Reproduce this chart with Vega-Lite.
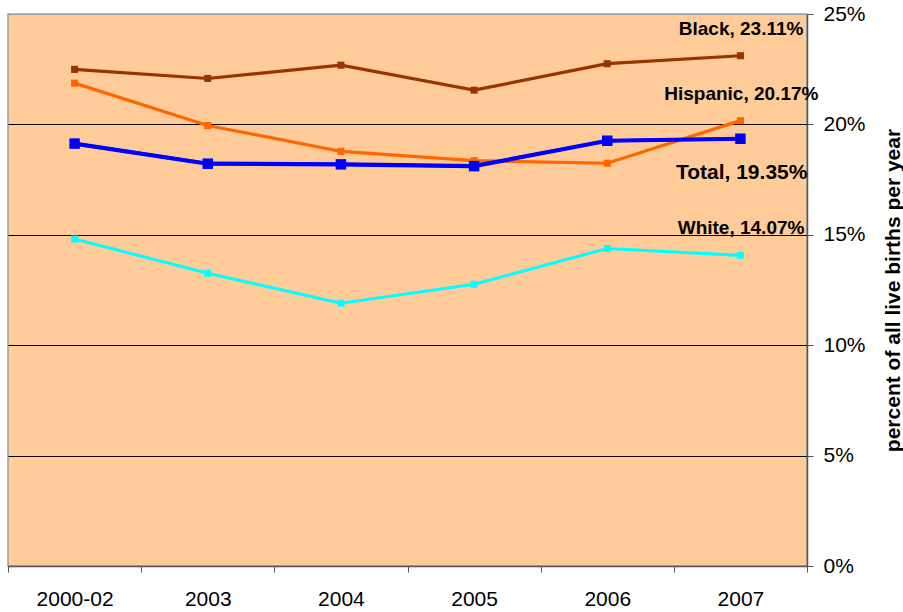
{
  "$schema": "https://vega.github.io/schema/vega-lite/v6.json",
  "autosize": {"type": "none"},
  "width": 799,
  "height": 552,
  "padding": {"left": 8, "top": 14, "right": 96, "bottom": 46},
  "background": "white",
  "config": {
    "font": "Liberation Sans",
    "view": {"fill": "#FFCC99", "stroke": "#A0A0A0", "strokeWidth": 1.5}
  },
  "data": {
    "values": [
      {"year": "2000-02", "series": "Black", "value": 22.49},
      {"year": "2003", "series": "Black", "value": 22.08},
      {"year": "2004", "series": "Black", "value": 22.68},
      {"year": "2005", "series": "Black", "value": 21.55},
      {"year": "2006", "series": "Black", "value": 22.75},
      {"year": "2007", "series": "Black", "value": 23.11},
      {"year": "2000-02", "series": "Hispanic", "value": 21.87},
      {"year": "2003", "series": "Hispanic", "value": 19.95},
      {"year": "2004", "series": "Hispanic", "value": 18.78},
      {"year": "2005", "series": "Hispanic", "value": 18.36},
      {"year": "2006", "series": "Hispanic", "value": 18.24},
      {"year": "2007", "series": "Hispanic", "value": 20.17},
      {"year": "2000-02", "series": "Total", "value": 19.13},
      {"year": "2003", "series": "Total", "value": 18.22},
      {"year": "2004", "series": "Total", "value": 18.19},
      {"year": "2005", "series": "Total", "value": 18.11},
      {"year": "2006", "series": "Total", "value": 19.26},
      {"year": "2007", "series": "Total", "value": 19.35},
      {"year": "2000-02", "series": "White", "value": 14.81},
      {"year": "2003", "series": "White", "value": 13.26},
      {"year": "2004", "series": "White", "value": 11.9},
      {"year": "2005", "series": "White", "value": 12.76},
      {"year": "2006", "series": "White", "value": 14.38},
      {"year": "2007", "series": "White", "value": 14.07}
    ]
  },
  "encoding": {
    "x": {
      "field": "year",
      "type": "nominal",
      "sort": null,
      "scale": {"type": "band", "paddingInner": 0, "paddingOuter": 0},
      "axis": {
        "title": null,
        "labelAngle": 0,
        "labelFontSize": 21,
        "labelColor": "black",
        "labelPadding": 16,
        "tickBand": "extent",
        "tickSize": 6,
        "tickColor": "#555555",
        "domainColor": "#555555",
        "domainWidth": 1.5,
        "grid": false
      }
    },
    "y": {
      "field": "value",
      "type": "quantitative",
      "scale": {"domain": [0, 25], "nice": false},
      "axis": {
        "orient": "right",
        "values": [0, 5, 10, 15, 20, 25],
        "labelExpr": "datum.value + '%'",
        "labelFontSize": 21,
        "labelColor": "black",
        "labelPadding": 10,
        "tickSize": 6,
        "tickColor": "#555555",
        "domainColor": "#555555",
        "domainWidth": 1.5,
        "grid": true,
        "gridColor": {"condition": {"test": "datum.value == 25", "value": "#A0A0A0"}, "value": "black"},
        "gridWidth": 1,
        "title": "percent of all live births per year",
        "titleFontSize": 21,
        "titleFontWeight": "bold",
        "titleColor": "black",
        "titleAngle": 270,
        "titleX": 86,
        "titleY": 276,
        "titleAlign": "center",
        "titleBaseline": "middle"
      }
    }
  },
  "layer": [
    {
      "mark": {"type": "line", "strokeWidth": 3.2},
      "encoding": {
        "color": {
          "field": "series", "type": "nominal", "legend": null,
          "scale": {"domain": ["Black", "Hispanic", "Total", "White"], "range": ["#993300", "#FF6600", "#0000FF", "#00FFFF"]}
        }
      }
    },
    {
      "transform": [{"filter": "datum.series == 'Total'"}],
      "mark": {"type": "line", "strokeWidth": 4.2, "color": "#0000FF"}
    },
    {
      "mark": {"type": "point", "shape": "square", "filled": true, "opacity": 1},
      "encoding": {
        "color": {
          "field": "series", "type": "nominal", "legend": null,
          "scale": {"domain": ["Black", "Hispanic", "Total", "White"], "range": ["#993300", "#FF6600", "#0000FF", "#00FFFF"]}
        },
        "size": {"condition": {"test": "datum.series == 'Total'", "value": 110}, "value": 50}
      }
    },
    {
      "transform": [{"filter": "datum.series == 'Black' && datum.year == '2007'"}],
      "mark": {"type": "text", "align": "right", "baseline": "alphabetic", "dx": 63, "dy": -21, "fontSize": 19, "fontWeight": "bold", "color": "black"},
      "encoding": {"text": {"value": "Black, 23.11%"}}
    },
    {
      "transform": [{"filter": "datum.series == 'Hispanic' && datum.year == '2007'"}],
      "mark": {"type": "text", "align": "right", "baseline": "alphabetic", "dx": 78, "dy": -21, "fontSize": 19, "fontWeight": "bold", "color": "black"},
      "encoding": {"text": {"value": "Hispanic, 20.17%"}}
    },
    {
      "transform": [{"filter": "datum.series == 'Total' && datum.year == '2007'"}],
      "mark": {"type": "text", "align": "right", "baseline": "alphabetic", "dx": 67, "dy": 40, "fontSize": 21, "fontWeight": "bold", "color": "black"},
      "encoding": {"text": {"value": "Total, 19.35%"}}
    },
    {
      "transform": [{"filter": "datum.series == 'White' && datum.year == '2007'"}],
      "mark": {"type": "text", "align": "right", "baseline": "alphabetic", "dx": 64, "dy": -21, "fontSize": 19, "fontWeight": "bold", "color": "black"},
      "encoding": {"text": {"value": "White, 14.07%"}}
    }
  ]
}
